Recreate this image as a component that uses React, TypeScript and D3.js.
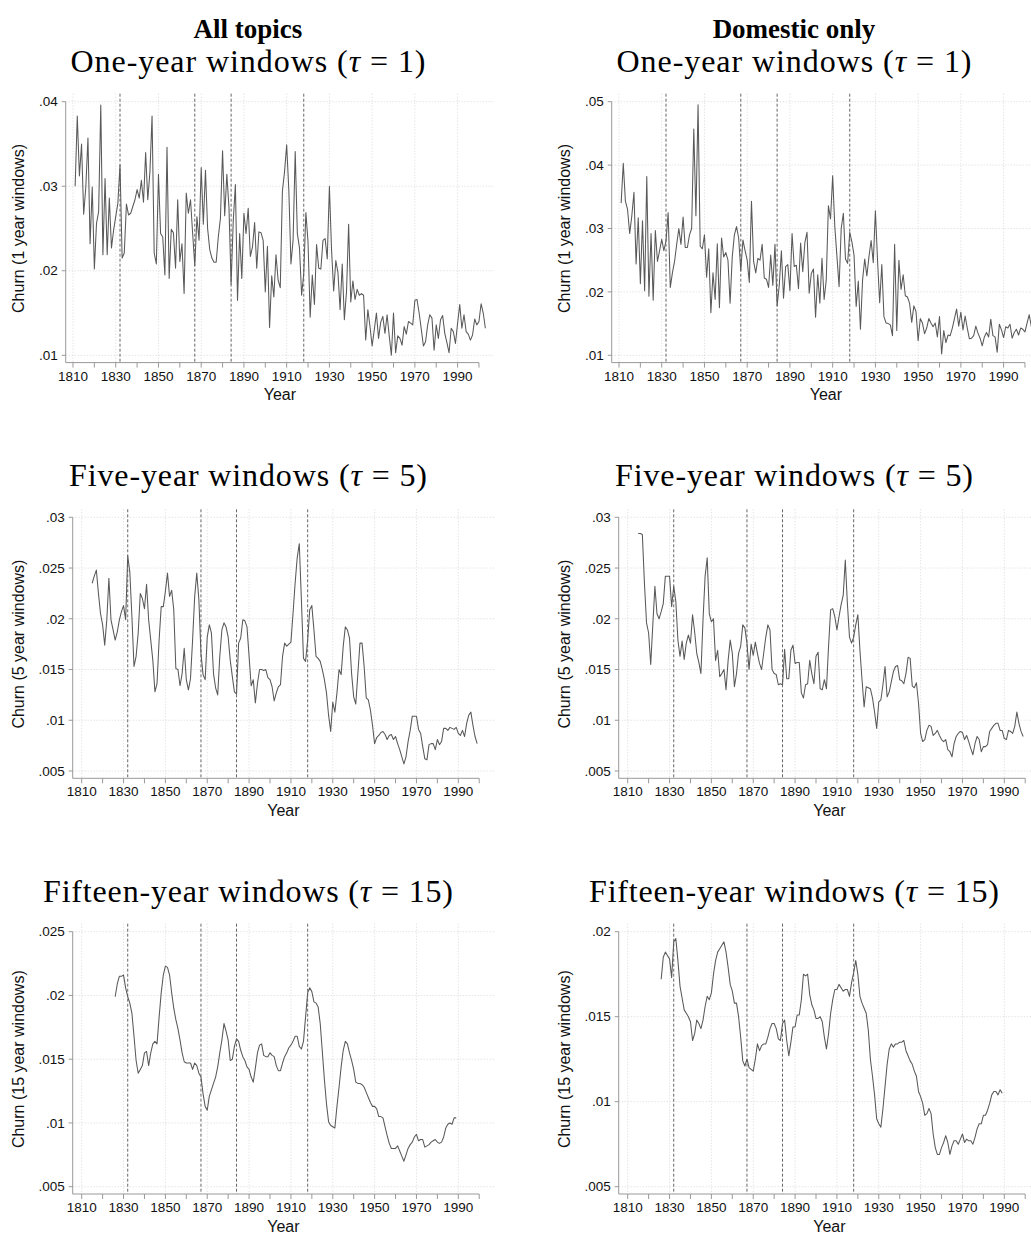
import React from "react";
import * as d3 from "d3";

const REFORM_YEARS = [1832, 1867, 1884, 1918];
const X_TICKS = [1810, 1820, 1830, 1840, 1850, 1860, 1870, 1880, 1890, 1900, 1910, 1920, 1930, 1940, 1950, 1960, 1970, 1980, 1990, 2000];
const X_LABELS = [1810, 1830, 1850, 1870, 1890, 1910, 1930, 1950, 1970, 1990];

const Y_TICKS_ALL_1 = [0.01, 0.02, 0.03, 0.04];
const Y_LABELS_ALL_1 = [".01", ".02", ".03", ".04"];
const Y_TICKS_DOM_1 = [0.01, 0.02, 0.03, 0.04, 0.05];
const Y_LABELS_DOM_1 = [".01", ".02", ".03", ".04", ".05"];
const Y_TICKS_5 = [0.005, 0.01, 0.015, 0.02, 0.025, 0.03];
const Y_LABELS_5 = [".005", ".01", ".015", ".02", ".025", ".03"];
const Y_TICKS_ALL_15 = [0.005, 0.01, 0.015, 0.02, 0.025];
const Y_LABELS_ALL_15 = [".005", ".01", ".015", ".02", ".025"];
const Y_TICKS_DOM_15 = [0.005, 0.01, 0.015, 0.02];
const Y_LABELS_DOM_15 = [".005", ".01", ".015", ".02"];

const ALL_1_START = 1811;
const ALL_1 = [
  0.0300, 0.0383, 0.0312, 0.0350, 0.0267, 0.0299, 0.0357, 0.0232, 0.0299, 0.0202,
  0.0256, 0.0270, 0.0396, 0.0219, 0.0309, 0.0219, 0.0286, 0.0227, 0.0248, 0.0264,
  0.0280, 0.0325, 0.0215, 0.0221, 0.0279, 0.0266, 0.0268, 0.0276, 0.0284, 0.0296,
  0.0286, 0.0307, 0.0281, 0.0340, 0.0284, 0.0317, 0.0383, 0.0221, 0.0208, 0.0314,
  0.0244, 0.0240, 0.0195, 0.0346, 0.0191, 0.0249, 0.0245, 0.0203, 0.0284, 0.0211,
  0.0232, 0.0173, 0.0292, 0.0268, 0.0284, 0.0244, 0.0206, 0.0264, 0.0236, 0.0322,
  0.0255, 0.0319, 0.0250, 0.0225, 0.0215, 0.0210, 0.0210, 0.0240, 0.0262, 0.0342,
  0.0265, 0.0314, 0.0275, 0.0184, 0.0259, 0.0302, 0.0165, 0.0244, 0.0191, 0.0268,
  0.0244, 0.0274, 0.0217, 0.0228, 0.0257, 0.0203, 0.0246, 0.0245, 0.0236, 0.0175,
  0.0229, 0.0133, 0.0194, 0.0169, 0.0219, 0.0189, 0.0180, 0.0294, 0.0317, 0.0349,
  0.0296, 0.0208, 0.0236, 0.0341, 0.0244, 0.0227, 0.0171, 0.0197, 0.0269, 0.0234,
  0.0145, 0.0195, 0.0160, 0.0231, 0.0203, 0.0202, 0.0236, 0.0238, 0.0214, 0.0300,
  0.0225, 0.0176, 0.0212, 0.0198, 0.0154, 0.0208, 0.0142, 0.0175, 0.0255, 0.0163,
  0.0188, 0.0166, 0.0178, 0.0171, 0.0173, 0.0171, 0.0118, 0.0154, 0.0134, 0.0111,
  0.0130, 0.0150, 0.0120, 0.0139, 0.0146, 0.0126, 0.0148, 0.0123, 0.0100, 0.0150,
  0.0103, 0.0123, 0.0120, 0.0112, 0.0134, 0.0125, 0.0140, 0.0138, 0.0136, 0.0165,
  0.0166, 0.0150, 0.0131, 0.0111, 0.0116, 0.0136, 0.0148, 0.0144, 0.0106, 0.0136,
  0.0120, 0.0142, 0.0147, 0.0126, 0.0115, 0.0103, 0.0132, 0.0128, 0.0114, 0.0138,
  0.0160, 0.0132, 0.0148, 0.0128, 0.0125, 0.0118, 0.0124, 0.0143, 0.0136, 0.0140,
  0.0161, 0.0150, 0.0132,
];

const DOM_1_START = 1811;
const DOM_1 = [
  0.0340, 0.0403, 0.0343, 0.0330, 0.0292, 0.0320, 0.0357, 0.0244, 0.0317, 0.0213,
  0.0312, 0.0202, 0.0382, 0.0193, 0.0292, 0.0187, 0.0297, 0.0248, 0.0265, 0.0283,
  0.0265, 0.0280, 0.0325, 0.0207, 0.0230, 0.0248, 0.0275, 0.0300, 0.0275, 0.0318,
  0.0270, 0.0270, 0.0290, 0.0300, 0.0457, 0.0320, 0.0495, 0.0272, 0.0268, 0.0290,
  0.0223, 0.0268, 0.0167, 0.0230, 0.0188, 0.0276, 0.0175, 0.0285, 0.0255, 0.0262,
  0.0250, 0.0182, 0.0255, 0.0290, 0.0303, 0.0285, 0.0233, 0.0282, 0.0265, 0.0250,
  0.0215, 0.0343, 0.0248, 0.0230, 0.0253, 0.0250, 0.0275, 0.0222, 0.0220, 0.0207,
  0.0258, 0.0210, 0.0275, 0.0178, 0.0210, 0.0265, 0.0190, 0.0240, 0.0243, 0.0202,
  0.0292, 0.0240, 0.0242, 0.0205, 0.0277, 0.0232, 0.0278, 0.0294, 0.0198, 0.0229,
  0.0236, 0.0160, 0.0227, 0.0182, 0.0253, 0.0188, 0.0219, 0.0336, 0.0315, 0.0383,
  0.0303, 0.0256, 0.0208, 0.0300, 0.0324, 0.0252, 0.0245, 0.0294, 0.0279, 0.0258,
  0.0177, 0.0217, 0.0141, 0.0219, 0.0252, 0.0225, 0.0256, 0.0281, 0.0246, 0.0328,
  0.0250, 0.0183, 0.0243, 0.0161, 0.0151, 0.0150, 0.0148, 0.0131, 0.0275, 0.0139,
  0.0250, 0.0204, 0.0227, 0.0194, 0.0192, 0.0182, 0.0152, 0.0178, 0.0169, 0.0123,
  0.0158, 0.0151, 0.0134, 0.0143, 0.0158, 0.0151, 0.0145, 0.0151, 0.0129, 0.0161,
  0.0102, 0.0139, 0.0120, 0.0132, 0.0131, 0.0143, 0.0158, 0.0173, 0.0146, 0.0168,
  0.0140, 0.0162, 0.0143, 0.0126, 0.0127, 0.0131, 0.0146, 0.0135, 0.0127, 0.0115,
  0.0129, 0.0136, 0.0129, 0.0157, 0.0131, 0.0129, 0.0105, 0.0149, 0.0140, 0.0128,
  0.0145, 0.0143, 0.0149, 0.0127, 0.0136, 0.0141, 0.0132, 0.0143, 0.0141, 0.0137,
  0.0151, 0.0164, 0.0145,
];

const ALL_5_START = 1815;
const ALL_5 = [
  0.0235, 0.0242, 0.0248, 0.0225, 0.0205, 0.0194,
  0.0174, 0.0199, 0.0240, 0.0199, 0.0189, 0.0179, 0.0187, 0.0199, 0.0207, 0.0213,
  0.0199, 0.0262, 0.0246, 0.0202, 0.0153, 0.0163, 0.0186, 0.0225, 0.0220, 0.0210,
  0.0234, 0.0199, 0.0179, 0.0159, 0.0128, 0.0136, 0.0179, 0.0212, 0.0212, 0.0227,
  0.0245, 0.0222, 0.0228, 0.0209, 0.0151, 0.0150, 0.0134, 0.0146, 0.0171, 0.0140,
  0.0130, 0.0141, 0.0179, 0.0222, 0.0245, 0.0219, 0.0166, 0.0145, 0.0140, 0.0182,
  0.0194, 0.0186, 0.0146, 0.0132, 0.0125, 0.0163, 0.0189, 0.0196, 0.0192, 0.0182,
  0.0159, 0.0143, 0.0128, 0.0126, 0.0176, 0.0181, 0.0199, 0.0198, 0.0192, 0.0163,
  0.0134, 0.0140, 0.0117, 0.0136, 0.0150, 0.0150, 0.0149, 0.0150, 0.0142, 0.0140,
  0.0133, 0.0119, 0.0127, 0.0133, 0.0135, 0.0163, 0.0176, 0.0173, 0.0175, 0.0177,
  0.0205, 0.0235, 0.0260, 0.0274, 0.0219, 0.0161, 0.0158, 0.0179, 0.0209, 0.0213,
  0.0189, 0.0163, 0.0161, 0.0158, 0.0150, 0.0140, 0.0127, 0.0105, 0.0089, 0.0118,
  0.0108, 0.0127, 0.0150, 0.0145, 0.0173, 0.0192, 0.0189, 0.0181, 0.0146, 0.0123,
  0.0116, 0.0146, 0.0176, 0.0176, 0.0153, 0.0122, 0.0120, 0.0110, 0.0095, 0.0077,
  0.0083, 0.0085, 0.0088, 0.0089, 0.0086, 0.0081, 0.0085, 0.0086, 0.0081, 0.0084,
  0.0077, 0.0071, 0.0064, 0.0057, 0.0064, 0.0079, 0.0090, 0.0104, 0.0104, 0.0104,
  0.0091, 0.0087, 0.0074, 0.0062, 0.0061, 0.0076, 0.0077, 0.0077, 0.0071, 0.0081,
  0.0076, 0.0079, 0.0092, 0.0092, 0.0090, 0.0093, 0.0092, 0.0091, 0.0093, 0.0087,
  0.0085, 0.0090, 0.0084, 0.0097, 0.0105, 0.0108, 0.0095, 0.0084, 0.0077,
];

const DOM_5_START = 1815;
const DOM_5 = [
  0.0284, 0.0284, 0.0283, 0.0235, 0.0196, 0.0186,
  0.0155, 0.0194, 0.0232, 0.0205, 0.0200, 0.0207, 0.0215, 0.0242, 0.0242, 0.0242,
  0.0212, 0.0232, 0.0217, 0.0179, 0.0163, 0.0178, 0.0160, 0.0176, 0.0184, 0.0176,
  0.0204, 0.0187, 0.0166, 0.0157, 0.0146, 0.0199, 0.0242, 0.0260, 0.0205, 0.0197,
  0.0200, 0.0159, 0.0169, 0.0143, 0.0146, 0.0150, 0.0130, 0.0159, 0.0179, 0.0166,
  0.0133, 0.0146, 0.0166, 0.0173, 0.0194, 0.0191, 0.0176, 0.0150, 0.0175, 0.0164,
  0.0177, 0.0166, 0.0156, 0.0150, 0.0166, 0.0182, 0.0194, 0.0189, 0.0150, 0.0146,
  0.0145, 0.0135, 0.0136, 0.0135, 0.0170, 0.0141, 0.0141, 0.0169, 0.0174,
  0.0156, 0.0157, 0.0157, 0.0127, 0.0122, 0.0135, 0.0136, 0.0159, 0.0146, 0.0136,
  0.0163, 0.0167, 0.0131, 0.0130, 0.0140, 0.0131, 0.0173, 0.0209, 0.0210, 0.0202,
  0.0189, 0.0202, 0.0214, 0.0223, 0.0258, 0.0215, 0.0182, 0.0176, 0.0182, 0.0194,
  0.0204, 0.0169, 0.0140, 0.0113, 0.0133, 0.0132, 0.0131, 0.0122, 0.0108, 0.0092,
  0.0118, 0.0120, 0.0135, 0.0153, 0.0123, 0.0128, 0.0138, 0.0148, 0.0153, 0.0154,
  0.0140, 0.0139, 0.0136, 0.0146, 0.0162, 0.0161, 0.0134, 0.0132, 0.0137, 0.0117,
  0.0087, 0.0079, 0.0081, 0.0090, 0.0095, 0.0094, 0.0085, 0.0087, 0.0090, 0.0085,
  0.0081, 0.0079, 0.0081, 0.0071, 0.0069, 0.0064, 0.0077, 0.0084, 0.0087, 0.0089,
  0.0088, 0.0081, 0.0085, 0.0079, 0.0072, 0.0066, 0.0077, 0.0084, 0.0081, 0.0069,
  0.0074, 0.0074, 0.0076, 0.0089, 0.0092, 0.0095, 0.0097, 0.0097, 0.0090, 0.0090,
  0.0082, 0.0081, 0.0090, 0.0089, 0.0087, 0.0094, 0.0108, 0.0097, 0.0089, 0.0084,
];

const ALL_15_START = 1826;
const ALL_15 = [
  0.0199, 0.0209, 0.0215, 0.0215, 0.0216,
  0.0206, 0.0199, 0.0194, 0.0186, 0.0168, 0.0149, 0.0139, 0.0142, 0.0145, 0.0155,
  0.0156, 0.0145, 0.0155, 0.0162, 0.0164, 0.0162, 0.0183, 0.0202, 0.0216, 0.0223,
  0.0222, 0.0216, 0.0202, 0.0190, 0.0181, 0.0174, 0.0165, 0.0155, 0.0148, 0.0147,
  0.0147, 0.0147, 0.0142, 0.0147, 0.0145, 0.0139, 0.0136, 0.0123, 0.0113, 0.0110,
  0.0121, 0.0126, 0.0131, 0.0136, 0.0144, 0.0155, 0.0165, 0.0178, 0.0172, 0.0165,
  0.0149, 0.0150, 0.0160, 0.0166, 0.0164, 0.0157, 0.0152, 0.0149, 0.0144,
  0.0142, 0.0136, 0.0132, 0.0143, 0.0155, 0.0161, 0.0162, 0.0153, 0.0152, 0.0152,
  0.0155, 0.0153, 0.0152, 0.0145, 0.0141, 0.0141, 0.0147, 0.0152, 0.0155, 0.0159,
  0.0161, 0.0164, 0.0168, 0.0168, 0.0160, 0.0158, 0.0164, 0.0183, 0.0202, 0.0206,
  0.0203, 0.0195, 0.0194, 0.0191, 0.0178, 0.0156, 0.0134, 0.0115, 0.0101, 0.0098,
  0.0097, 0.0096, 0.0113, 0.0128, 0.0144, 0.0157, 0.0164, 0.0162, 0.0155, 0.0149,
  0.0142, 0.0132, 0.0131, 0.0131, 0.0130, 0.0128, 0.0124, 0.0120, 0.0116, 0.0113,
  0.0113, 0.0111, 0.0105, 0.0105, 0.0104, 0.0097, 0.0090, 0.0084, 0.0080, 0.0080,
  0.0080, 0.0082, 0.0078, 0.0074, 0.0070, 0.0075, 0.0080, 0.0083, 0.0085, 0.0089,
  0.0091, 0.0086, 0.0087, 0.0087, 0.0081, 0.0082, 0.0083, 0.0085, 0.0086, 0.0087,
  0.0085, 0.0084, 0.0085, 0.0089, 0.0096, 0.0099, 0.0100, 0.0099, 0.0104, 0.0104,
];

const DOM_15_START = 1826;
const DOM_15 = [
  0.0172, 0.0185, 0.0188, 0.0186, 0.0184,
  0.0173, 0.0194, 0.0196, 0.0183, 0.0168, 0.0161, 0.0154, 0.0152, 0.0150, 0.0147,
  0.0136, 0.0140, 0.0148, 0.0146, 0.0143, 0.0148, 0.0156, 0.0162, 0.0160, 0.0164,
  0.0175, 0.0183, 0.0188, 0.0190, 0.0192, 0.0194, 0.0188, 0.0179, 0.0169, 0.0165,
  0.0158, 0.0158, 0.0150, 0.0138, 0.0124, 0.0121, 0.0125, 0.0120, 0.0119, 0.0118,
  0.0125, 0.0134, 0.0130, 0.0133, 0.0134, 0.0134, 0.0138, 0.0143, 0.0146, 0.0146,
  0.0143, 0.0137, 0.0136, 0.0146, 0.0148, 0.0136, 0.0127, 0.0135, 0.0144,
  0.0144, 0.0151, 0.0151, 0.0160, 0.0175, 0.0174, 0.0175, 0.0163, 0.0157, 0.0154,
  0.0149, 0.0149, 0.0150, 0.0147, 0.0138, 0.0131, 0.0140, 0.0152, 0.0160, 0.0166,
  0.0166, 0.0169, 0.0167, 0.0165, 0.0166, 0.0166, 0.0162, 0.0170, 0.0176, 0.0183,
  0.0175, 0.0162, 0.0158, 0.0155, 0.0152, 0.0142, 0.0125, 0.0115, 0.0104, 0.0090,
  0.0087, 0.0085, 0.0096, 0.0109, 0.0122, 0.0131, 0.0134, 0.0132, 0.0134, 0.0134,
  0.0135, 0.0135, 0.0136, 0.0130, 0.0127, 0.0124, 0.0122, 0.0118, 0.0115, 0.0106,
  0.0103, 0.0099, 0.0092, 0.0093, 0.0096, 0.0093, 0.0081, 0.0073, 0.0069, 0.0069,
  0.0073, 0.0076, 0.0080, 0.0076, 0.0069, 0.0074, 0.0077, 0.0077, 0.0075, 0.0078,
  0.0081, 0.0076, 0.0078, 0.0077, 0.0077, 0.0075, 0.0079, 0.0084, 0.0087, 0.0087,
  0.0092, 0.0092, 0.0095, 0.0099, 0.0104, 0.0106, 0.0106, 0.0104, 0.0107, 0.0105,
];

const COLUMN_TITLES = ["All topics", "Domestic only"];
const ROW_TITLES = [
  { text: "One-year windows", tau: "1" },
  { text: "Five-year windows", tau: "5" },
  { text: "Fifteen-year windows", tau: "15" },
];
const Y_TITLES = ["Churn (1 year windows)", "Churn (5 year windows)", "Churn (15 year windows)"];

// layout (pixels)
const W = 1031;
const H = 1235;
const COL_DX = [0, 546];
const COL_CENTER = [248, 794];
const TITLE_BASE = 38;
const ROW_TOP = [101.7, 517.3, 931.7];
const ROW_BOTTOM = [355.3, 771, 1186.7];
const SUB_BASE = [71.5, 486, 902];
const SUB_WIDTH = [355, 358, 410];
const AXIS_X = [65.7, 72.7, 72.7];
const X1810 = [73, 81.7, 81.7];
const X1990 = [457.6, 458.3, 458.3];
const GRID_RIGHT = 494;

const SANS = "'Liberation Sans', Arial, Helvetica, sans-serif";
const SERIF = "'Liberation Serif', 'Times New Roman', serif";

type Spec = {
  row: number;
  col: number;
  start: number;
  values: number[];
  ticks: number[];
  labels: string[];
};

const SPECS: Spec[] = [
  { row: 0, col: 0, start: ALL_1_START, values: ALL_1, ticks: Y_TICKS_ALL_1, labels: Y_LABELS_ALL_1 },
  { row: 0, col: 1, start: DOM_1_START, values: DOM_1, ticks: Y_TICKS_DOM_1, labels: Y_LABELS_DOM_1 },
  { row: 1, col: 0, start: ALL_5_START, values: ALL_5, ticks: Y_TICKS_5, labels: Y_LABELS_5 },
  { row: 1, col: 1, start: DOM_5_START, values: DOM_5, ticks: Y_TICKS_5, labels: Y_LABELS_5 },
  { row: 2, col: 0, start: ALL_15_START, values: ALL_15, ticks: Y_TICKS_ALL_15, labels: Y_LABELS_ALL_15 },
  { row: 2, col: 1, start: DOM_15_START, values: DOM_15, ticks: Y_TICKS_DOM_15, labels: Y_LABELS_DOM_15 },
];

function Panel({ spec }: { spec: Spec }) {
  const { row, col } = spec;
  const dx = COL_DX[col];
  const axisX = AXIS_X[row] + dx;
  const x = d3.scaleLinear().domain([1810, 1990]).range([X1810[row] + dx, X1990[row] + dx]);
  const y = d3
    .scaleLinear()
    .domain([spec.ticks[0], spec.ticks[spec.ticks.length - 1]])
    .range([ROW_BOTTOM[row], ROW_TOP[row]]);
  const plotTop = ROW_TOP[row] - 8;
  const xAxisY = ROW_BOTTOM[row] + 7.3;
  const gridRight = GRID_RIGHT + dx;
  const line = d3
    .line<number>()
    .x((_, i) => x(spec.start + i))
    .y((d) => y(d));
  const title = ROW_TITLES[row];
  const cx = COL_CENTER[col];
  const yMid = (ROW_TOP[row] + ROW_BOTTOM[row]) / 2;
  const plotCx = (axisX + gridRight) / 2;

  return (
    <g>
      <text
        x={cx}
        y={SUB_BASE[row]}
        textAnchor="middle"
        fontFamily={SERIF}
        fontSize={32}
        fill="#000"
        textLength={SUB_WIDTH[row]}
        lengthAdjust="spacing"
      >
        {title.text} (<tspan fontStyle="italic">τ</tspan> = {title.tau})
      </text>
      {spec.ticks.map((t) => (
        <line
          key={"h" + t}
          x1={axisX}
          x2={gridRight}
          y1={y(t)}
          y2={y(t)}
          stroke="#d8d8d8"
          strokeWidth={1}
          strokeDasharray="1 2"
        />
      ))}
      {X_LABELS.map((t) => (
        <line
          key={"v" + t}
          x1={x(t)}
          x2={x(t)}
          y1={plotTop}
          y2={xAxisY}
          stroke="#d8d8d8"
          strokeWidth={1}
          strokeDasharray="1 2"
        />
      ))}
      {REFORM_YEARS.map((t) => (
        <line
          key={"r" + t}
          x1={x(t)}
          x2={x(t)}
          y1={plotTop}
          y2={xAxisY}
          stroke="#555"
          strokeWidth={0.9}
          strokeDasharray="3 2"
        />
      ))}
      <path d={line(spec.values) || ""} fill="none" stroke="#595959" strokeWidth={1.05} strokeLinejoin="round" />
      <line x1={axisX} x2={axisX} y1={y(spec.ticks[spec.ticks.length - 1])} y2={xAxisY} stroke="#999" strokeWidth={1} />
      {spec.ticks.map((t, i) => (
        <g key={"yt" + t}>
          <line x1={axisX - 4} x2={axisX} y1={y(t)} y2={y(t)} stroke="#999" strokeWidth={1} />
          <text
            x={axisX - 8}
            y={y(t)}
            dy="0.35em"
            textAnchor="end"
            fontFamily={SANS}
            fontSize={13.5}
            fill="#111"
          >
            {spec.labels[i]}
          </text>
        </g>
      ))}
      <text
        transform={`translate(${24 + dx},${yMid}) rotate(-90)`}
        textAnchor="middle"
        fontFamily={SANS}
        fontSize={16}
        fill="#111"
      >
        {Y_TITLES[row]}
      </text>
      <line x1={axisX} x2={x(2000)} y1={xAxisY} y2={xAxisY} stroke="#999" strokeWidth={1} />
      {X_TICKS.map((t) => (
        <line key={"xt" + t} x1={x(t)} x2={x(t)} y1={xAxisY} y2={xAxisY + 5} stroke="#999" strokeWidth={1} />
      ))}
      {X_LABELS.map((t) => (
        <text
          key={"xl" + t}
          x={x(t)}
          y={xAxisY + 18}
          textAnchor="middle"
          fontFamily={SANS}
          fontSize={13.5}
          fill="#111"
        >
          {t}
        </text>
      ))}
      <text x={plotCx} y={xAxisY + 37.5} textAnchor="middle" fontFamily={SANS} fontSize={16} fill="#111">
        Year
      </text>
    </g>
  );
}

export default function App() {
  return (
    <svg
      width={W}
      height={H}
      viewBox={`0 0 ${W} ${H}`}
      style={{ position: "absolute", left: 0, top: 0, background: "#fff" }}
    >
      <rect x={0} y={0} width={W} height={H} fill="#fff" />
      {COLUMN_TITLES.map((t, i) => (
        <text
          key={t}
          x={COL_CENTER[i]}
          y={TITLE_BASE}
          textAnchor="middle"
          fontFamily={SERIF}
          fontWeight="bold"
          fontSize={27}
          fill="#000"
        >
          {t}
        </text>
      ))}
      {SPECS.map((s) => (
        <Panel key={s.row + "-" + s.col} spec={s} />
      ))}
    </svg>
  );
}
